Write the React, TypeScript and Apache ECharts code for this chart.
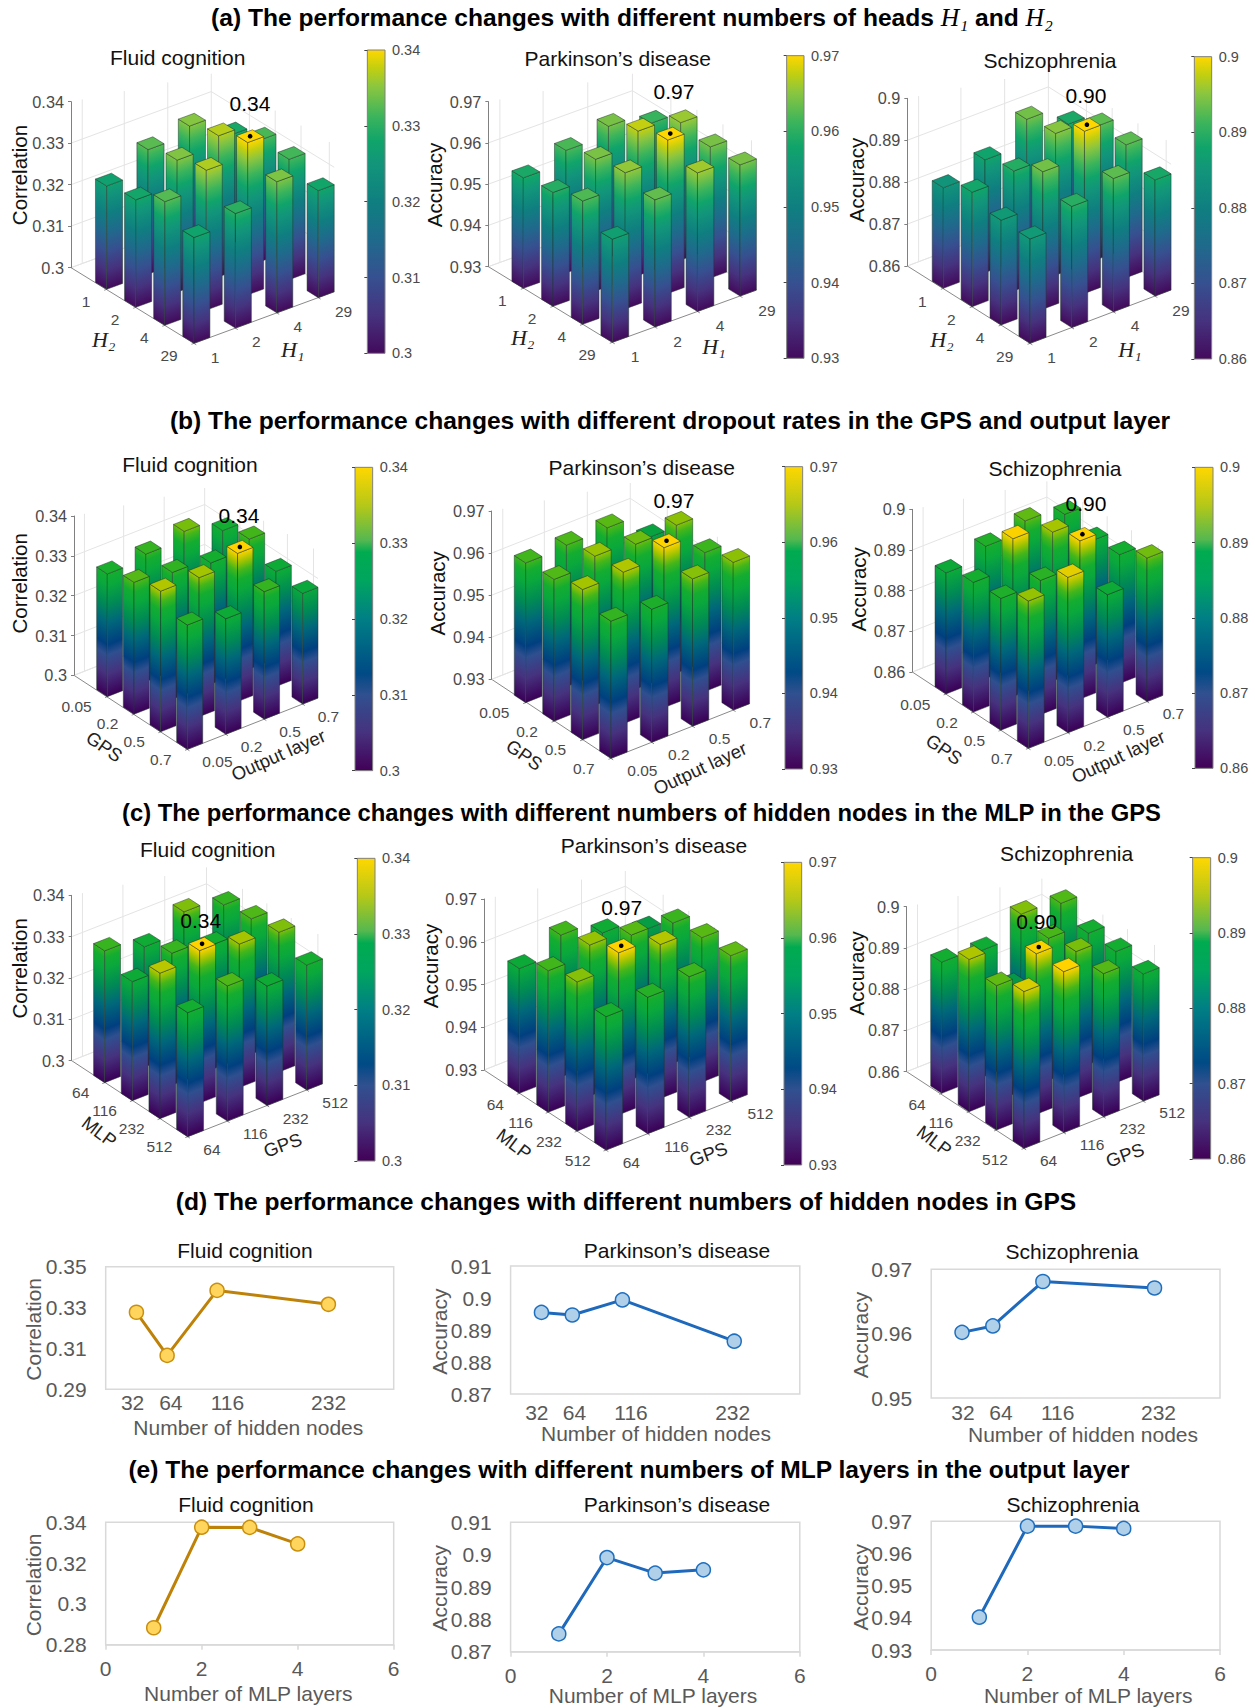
import React, { useEffect, useRef } from "react";
import * as echarts from "echarts";

// ---------- data: 3D bars, values[i][j], i = right floor axis, j = left floor axis ----------
const fluidHeads = [[0.3249,0.3259,0.3298,0.3255],[0.33,0.3318,0.3337,0.3276],[0.332,0.334,0.3367,0.3316],[0.3262,0.3293,0.329,0.3258]];
const parkinsonHeads = [[0.9568,0.9576,0.9599,0.955],[0.9597,0.9619,0.963,0.9608],[0.9618,0.965,0.9672,0.9636],[0.9588,0.9633,0.9618,0.9618]];
const schizoHeads = [[0.884,0.8873,0.885,0.8849],[0.8869,0.8886,0.8928,0.8889],[0.8928,0.8938,0.8987,0.8918],[0.8879,0.8918,0.8917,0.8877]];
const fluidDropout = [[0.3308,0.3331,0.3353,0.3312],[0.332,0.3318,0.3349,0.329],[0.3339,0.3304,0.3372,0.332],[0.3303,0.3326,0.3289,0.3278]];
const parkinsonDropout = [[0.9632,0.9637,0.9657,0.9626],[0.9636,0.9654,0.966,0.9616],[0.9639,0.9644,0.968,0.965],[0.9577,0.9651,0.963,0.9651]];
const schizoDropout = [[0.8898,0.8919,0.8924,0.8962],[0.8925,0.8988,0.893,0.8982],[0.8949,0.8966,0.8989,0.8901],[0.8927,0.8907,0.8917,0.8953]];
const fluidNodes = [[0.3319,0.3288,0.3352,0.33],[0.3291,0.3319,0.3369,0.3327],[0.3338,0.3301,0.3347,0.3289],[0.3317,0.3327,0.3338,0.3302]];
const parkinsonNodes = [[0.9592,0.9631,0.9649,0.9612],[0.9632,0.9653,0.9679,0.9619],[0.9599,0.9638,0.966,0.9629],[0.9567,0.9628,0.9638,0.964]];
const schizoNodes = [[0.8918,0.8969,0.895,0.898],[0.8908,0.8865,0.8989,0.899],[0.8958,0.8944,0.8956,0.8947],[0.8946,0.8918,0.8918,0.8908]];

const fluidRange = [0.3, 0.34];
const parkinsonRange = [0.93, 0.97];
const schizoRange = [0.86, 0.9];
const zInterval = 0.01;

const headTicks = ["1", "2", "4", "29"];
const dropoutTicks = ["0.05", "0.2", "0.5", "0.7"];
const nodeTicks = ["64", "116", "232", "512"];

// ---------- data: line charts ----------
const hiddenNodes = [32, 64, 116, 232];
const hiddenNodeLabels = ["32", "64", "116", "232"];
const mlpLayers = [1, 2, 3, 4];
const fluidHidden = [0.3277, 0.3066, 0.3384, 0.3316];
const parkinsonHidden = [0.8955, 0.8947, 0.8994, 0.8865];
const schizoHidden = [0.9602, 0.9612, 0.9681, 0.9671];
const fluidLayers = [0.2883, 0.3376, 0.3375, 0.3294];
const parkinsonLayers = [0.8755, 0.8991, 0.8943, 0.8953];
const schizoLayers = [0.9402, 0.9685, 0.9685, 0.9678];

const FLUID = "Fluid cognition";
const PARK = "Parkinson’s disease";
const SCHIZO = "Schizophrenia";
const rowTitles = [
  { text: "(a) The performance changes with different numbers of heads {m|H₁} and {m|H₂}", x: 632, y: 19, size: 24.6 },
  { text: "(b) The performance changes with different dropout rates in the GPS and output layer", x: 670, y: 422, size: 24.6 },
  { text: "(c) The performance changes with different numbers of hidden nodes in the MLP in the GPS", x: 641.5, y: 814, size: 23.8 },
  { text: "(d) The performance changes with different numbers of hidden nodes in GPS", x: 626, y: 1203, size: 24.6 },
  { text: "(e) The performance changes with different numbers of MLP layers in the output layer", x: 629, y: 1471, size: 24.6 },
];

// ---------- colour maps ----------
const mapA: [number, string][] = [[0,"#430a5c"],[0.125,"#46327e"],[0.25,"#365090"],[0.375,"#1f6a8c"],[0.5,"#0f7f80"],[0.625,"#12957a"],[0.7,"#10a46a"],[0.78,"#3bb45c"],[0.88,"#8cc63f"],[0.94,"#c2cf10"],[1,"#ffd700"]];
const mapB: [number, string][] = [[0,"#420058"],[0.125,"#46327e"],[0.25,"#30508f"],[0.32,"#004a85"],[0.5,"#007f85"],[0.625,"#00a55f"],[0.72,"#00ab50"],[0.76,"#55b850"],[0.875,"#b5c818"],[1,"#ffd700"]];
const mapBars: [number, string][] = [[0,"#3a0058"],[0.15,"#46327e"],[0.28,"#2f4f8f"],[0.35,"#003f80"],[0.5,"#00687a"],[0.62,"#008a55"],[0.75,"#0aa83c"],[0.82,"#14ad30"],[0.88,"#45b61a"],[0.94,"#a5c400"],[1,"#ffd200"]];

const hex = (c: string) => [1, 3, 5].map((k) => parseInt(c.slice(k, k + 2), 16));
function colorAt(map: [number, string][], t: number) {
  for (let k = 1; k < map.length; k++) {
    if (t <= map[k][0]) {
      const f = (t - map[k - 1][0]) / (map[k][0] - map[k - 1][0]);
      const a = hex(map[k - 1][1]), b = hex(map[k][1]);
      return `rgb(${a.map((v, n) => Math.round(v + (b[n] - v) * f)).join(",")})`;
    }
  }
  return map[map.length - 1][1];
}
function truncated(map: [number, string][], T: number) {
  const out = map.filter((s) => s[0] < T).map((s) => ({ offset: s[0] / T, color: s[1] }));
  out.push({ offset: 1, color: colorAt(map, T) });
  return out;
}

// ---------- panel layout: numbers in 3x crop coordinates of each origin ----------
const SANS = "'Liberation Sans', Arial, sans-serif";
const SERIF = "'Liberation Serif', serif";
type Pt = number[];
const panels: any[] = [
  { name: FLUID, yName: "Correlation", range: fluidRange, values: fluidHeads, best: "0.34", o: [0, 0], L: [213, 803], top: 305, V0: [320, 868], W: [87.3, 54], U: [124.3, -45.7], w: 0.385, cb: [1102, 1155, 150, 1060], title: [533, 177], yT: [57, 525], bestAt: [750, 310], jOff: [-49, 37], iOff: [50, 41], jName: ["H₂", 311, 1019, 0], iName: ["H₁", 878, 1048, 0], ticks: [headTicks, headTicks], cmap: mapA, cbMap: mapA, max: [2, 2] },
  { name: PARK, yName: "Accuracy", range: parkinsonRange, values: parkinsonHeads, best: "0.97", o: [410, 0], L: [235, 800], top: 305, V0: [340, 865], W: [89, 54], U: [127.7, -46.3], w: 0.385, cb: [1130, 1182, 167, 1075], title: [623, 180], yT: [73, 555], bestAt: [792, 275], jOff: [-50, 35], iOff: [55, 43], jName: ["H₂", 338, 1012, 0], iName: ["H₁", 912, 1040, 0], ticks: [headTicks, headTicks], cmap: mapA, cbMap: mapA, max: [2, 2] },
  { name: SCHIZO, yName: "Accuracy", range: schizoRange, values: schizoHeads, best: "0.90", o: [825, 0], L: [247, 798], top: 295, V0: [355, 865], W: [86.7, 55], U: [125, -47.3], w: 0.385, cb: [1108, 1160, 170, 1077], title: [675, 186], yT: [93, 540], bestAt: [783, 287], jOff: [-50, 38], iOff: [52, 42], jName: ["H₂", 351, 1019, 0], iName: ["H₁", 915, 1048, 0], ticks: [headTicks, headTicks], cmap: mapA, cbMap: mapA, max: [2, 2] },
  { name: FLUID, yName: "Correlation", range: fluidRange, values: fluidDropout, best: "0.34", o: [0, 400], L: [222, 826], top: 348, V0: [322, 890], W: [80, 52.7], U: [115.3, -45.3], w: 0.4, cb: [1065, 1118, 202, 1112], title: [570, 200], yT: [57, 550], bestAt: [717, 345], jOff: [-47, 29], iOff: [45, 37], jName: ["GPS", 313, 1040, -35], iName: ["Output layer", 835, 1065, 24], ticks: [dropoutTicks, dropoutTicks], cmap: mapBars, cbMap: mapB, max: [2, 2] },
  { name: PARK, yName: "Accuracy", range: parkinsonRange, values: parkinsonDropout, best: "0.97", o: [410, 400], L: [245, 838], top: 333, V0: [347, 908], W: [85.3, 55.7], U: [122.3, -48.3], w: 0.4, cb: [1125, 1178, 200, 1107], title: [695, 207], yT: [83, 580], bestAt: [792, 300], jOff: [-49, 30], iOff: [49, 37], jName: ["GPS", 343, 1065, -35], iName: ["Output layer", 870, 1105, 25], ticks: [dropoutTicks, dropoutTicks], cmap: mapBars, cbMap: mapB, max: [2, 2] },
  { name: SCHIZO, yName: "Accuracy", range: schizoRange, values: schizoDropout, best: "0.90", o: [825, 400], L: [262, 816], top: 328, V0: [363, 882], W: [82.3, 54.3], U: [118.7, -46.7], w: 0.4, cb: [1110, 1164, 202, 1105], title: [690, 212], yT: [100, 568], bestAt: [783, 310], jOff: [-47, 31], iOff: [47, 37], jName: ["GPS", 357, 1048, -35], iName: ["Output layer", 880, 1070, 25], ticks: [dropoutTicks, dropoutTicks], cmap: mapBars, cbMap: mapB, max: [2, 2] },
  { name: FLUID, yName: "Correlation", range: fluidRange, values: fluidNodes, best: "0.34", o: [0, 790], L: [215, 812], top: 316, V0: [314, 878], W: [83, 54], U: [119, -46.7], w: 0.4, cb: [1072, 1125, 205, 1113], title: [623, 185], yT: [57, 535], bestAt: [602, 392], jOff: [-46, 29], iOff: [47, 38], jName: ["MLP", 298, 1025, -37], iName: ["GPS", 848, 1065, 20], ticks: [nodeTicks, nodeTicks], cmap: mapBars, cbMap: mapB, max: [1, 2] },
  { name: PARK, yName: "Accuracy", range: parkinsonRange, values: parkinsonNodes, best: "0.97", o: [410, 790], L: [222, 840], top: 327, V0: [328, 910], W: [86.7, 56.7], U: [124.7, -49], w: 0.4, cb: [1122, 1175, 217, 1125], title: [732, 172], yT: [60, 528], bestAt: [635, 352], jOff: [-46, 32], iOff: [50, 37], jName: ["MLP", 312, 1062, -37], iName: ["GPS", 895, 1092, 20], ticks: [nodeTicks, nodeTicks], cmap: mapBars, cbMap: mapB, max: [1, 2] },
  { name: SCHIZO, yName: "Accuracy", range: schizoRange, values: schizoNodes, best: "0.90", o: [825, 790], L: [245, 845], top: 350, V0: [350, 910], W: [82.3, 55], U: [119.3, -47.3], w: 0.4, cb: [1103, 1157, 203, 1107], title: [725, 195], yT: [93, 550], bestAt: [635, 393], jOff: [-48, 32], iOff: [48, 35], jName: ["MLP", 328, 1052, -37], iName: ["GPS", 900, 1095, 20], ticks: [nodeTicks, nodeTicks], cmap: mapBars, cbMap: mapB, max: [1, 2] },
];

const YEL = { line: "#bf8208", fill: "#ffd55e", edge: "#c98f0e" };
const BLU = { line: "#1f69bd", fill: "#b0cfe8", edge: "#1f6fbf" };
const linePanels: any[] = [
  { name: FLUID, yName: "Correlation", xs: hiddenNodes, ys: fluidHidden, c: YEL, box: [105.7, 393.7, 1266.7, 1389.3], y: [0.29, 0.35], yTicks: [0.29, 0.31, 0.33, 0.35], xMax: 300, titleAt: [245, 1252.3], yT: [33, 1329.3], xT: ["Number of hidden nodes", 248.3, 1427.7], labelXs: [132.6, 170.8, 227.4, 328.6], labelY: 1402 },
  { name: PARK, yName: "Accuracy", xs: hiddenNodes, ys: parkinsonHidden, c: BLU, box: [510.6, 799.8, 1266, 1394], y: [0.87, 0.91], yTicks: [0.87, 0.88, 0.89, 0.9, 0.91], xMax: 300, titleAt: [677, 1252], yT: [439, 1331.7], xT: ["Number of hidden nodes", 656, 1433.7], labelXs: [536.8, 574.5, 631, 732.7], labelY: 1412 },
  { name: SCHIZO, yName: "Accuracy", xs: hiddenNodes, ys: schizoHidden, c: BLU, box: [931.2, 1220, 1269.3, 1398], y: [0.95, 0.97], yTicks: [0.95, 0.96, 0.97], xMax: 300, titleAt: [1072, 1252.7], yT: [860, 1335], xT: ["Number of hidden nodes", 1083, 1434.3], labelXs: [962.9, 1001, 1057.7, 1158.5], labelY: 1412 },
  { name: FLUID, yName: "Correlation", xs: mlpLayers, ys: fluidLayers, c: YEL, box: [105.7, 393.7, 1522.3, 1644.7], y: [0.28, 0.34], yTicks: [0.28, 0.3, 0.32, 0.34], xMax: 6, titleAt: [245.9, 1505.7], yT: [33, 1585], xT: ["Number of MLP layers", 248.3, 1693] },
  { name: PARK, yName: "Accuracy", xs: mlpLayers, ys: parkinsonLayers, c: BLU, box: [510.6, 799.8, 1522.3, 1651.7], y: [0.87, 0.91], yTicks: [0.87, 0.88, 0.89, 0.9, 0.91], xMax: 6, titleAt: [677, 1505.7], yT: [439, 1588.3], xT: ["Number of MLP layers", 653, 1695] },
  { name: SCHIZO, yName: "Accuracy", xs: mlpLayers, ys: schizoLayers, c: BLU, box: [931.2, 1220, 1521.3, 1650], y: [0.93, 0.97], yTicks: [0.93, 0.94, 0.95, 0.96, 0.97], xMax: 6, titleAt: [1073, 1506], yT: [860, 1587.3], xT: ["Number of MLP layers", 1088.2, 1695] },
];

const fmt = (v: number) => String(+v.toFixed(2));

function buildOption() {
  const grid: any[] = [], xAxis: any[] = [], yAxis: any[] = [], series: any[] = [], graphic: any[] = [];
  const title: any[] = [];
  const addText = (text: string, x: number, y: number, font: any, rotDeg = 0) => {
    graphic.push({
      type: "text", x, y, rotation: (rotDeg * Math.PI) / 180, silent: true, z: 20,
      style: { text, align: "center", verticalAlign: "middle", fill: font.color, fontSize: font.size, fontFamily: font.family || SANS, fontStyle: font.style || "normal" },
    });
  };
  const addTitle = (text: string, x: number, y: number, size: number, bold: boolean, color: string) => {
    title.push({
      text, left: x, top: y - size * 0.58, textAlign: "center", padding: 0,
      textStyle: { fontFamily: SANS, fontSize: size, fontWeight: bold ? "bold" : "normal", color, rich: { m: { fontFamily: SERIF, fontStyle: "italic", fontWeight: "normal", fontSize: size + 1, color } } },
    });
  };

  rowTitles.forEach((r) => addTitle(r.text, r.x, r.y, r.size, true, "#000"));

  panels.forEach((p) => {
    const X = (zx: number) => p.o[0] + zx / 3;
    const Y = (zy: number) => p.o[1] + zy / 3;
    const L = [X(p.L[0]), Y(p.L[1])];
    const topY = Y(p.top);
    const zPx = L[1] - topY;
    const V0 = [X(p.V0[0]), Y(p.V0[1])];
    const W = [p.W[0] / 3, p.W[1] / 3];
    const U = [p.U[0] / 3, p.U[1] / 3];
    const w = p.w;
    const [zmin, zmax] = p.range;
    const zr = zmax - zmin;
    const B = [V0[0] + 3 * W[0], V0[1] + 3 * W[1]];
    const R = [B[0] + (3 + w) * U[0], B[1] + (3 + w) * U[1]];
    const Back = [L[0] + R[0] - B[0], L[1] + R[1] - B[1]];
    const gw = R[0] - L[0];

    // main grid: the visible y axis is the z axis at the left corner of the floor
    const gi = grid.length;
    grid.push({ left: L[0], top: topY, width: gw, height: zPx });
    xAxis.push({ type: "value", gridIndex: gi, min: 0, max: 1, show: false });
    yAxis.push({
      type: "value", gridIndex: gi, min: zmin, max: zmax, interval: zInterval, z: 1,
      axisLine: { show: true, lineStyle: { color: "#808080", width: 1 } },
      axisTick: { show: true, length: 3, lineStyle: { color: "#808080" } },
      splitLine: { show: false },
      axisLabel: { fontFamily: SANS, fontSize: 16.3, color: "#4a4a4a", margin: 7, padding: [0, 0, 6, 0], formatter: fmt },
    });

    const atPx = (api: any, x: number, y: number, val: number) =>
      api.coord([(x - L[0]) / gw, val + ((L[1] - y) / zPx) * zr]);
    const at = (api: any, i: number, j: number, val: number) =>
      atPx(api, V0[0] + i * U[0] + j * W[0], V0[1] + i * U[1] + j * W[1], val);
    const zLevels: number[] = [];
    for (let k = 0; k < 4; k++) zLevels.push(+(zmin + k * zInterval).toFixed(2));

    // walls and floor
    series.push({
      type: "custom", xAxisIndex: gi, yAxisIndex: gi, silent: true, z: 1,
      data: zLevels.map((z) => [z]),
      renderItem: (params: any, api: any) => {
        const z = api.value(0);
        const kids: any[] = [{
          type: "polyline",
          shape: { points: [atPx(api, L[0], L[1], z), atPx(api, Back[0], Back[1], z), atPx(api, R[0], R[1], z)] },
          style: { stroke: "#e4e4e4", lineWidth: 1, fill: "none" },
        }];
        if (params.dataIndex === 0) {
          const seg = (a: Pt, b: Pt, c: string) => ({ type: "line", shape: { x1: a[0], y1: a[1], x2: b[0], y2: b[1] }, style: { stroke: c, lineWidth: 1 } });
          [0.08, 0.38, 0.69, 1].forEach((f) => {
            const x = L[0] + f * (Back[0] - L[0]), y = L[1] + f * (Back[1] - L[1]);
            kids.push(seg(atPx(api, x, y, zmin), [x, topY - f * 28], "#e4e4e4"));
          });
          [0.31, 0.52, 0.73, 0.96].forEach((f) => {
            const x = Back[0] + f * (R[0] - Back[0]), y = Back[1] + f * (R[1] - Back[1]);
            kids.push(seg(atPx(api, x, y, zmin), [x, topY - 28 + f * (R[1] - 147 - topY + 28)], "#e4e4e4"));
          });
          const pB = atPx(api, B[0], B[1], zmin), pL = atPx(api, L[0], L[1], zmin), pR = atPx(api, R[0], R[1], zmin);
          kids.push(seg(pL, pB, "#8a8a8a"), seg(pB, pR, "#8a8a8a"));
          kids.push(seg(pL, atPx(api, Back[0], Back[1], zmin), "#e4e4e4"), seg(atPx(api, Back[0], Back[1], zmin), pR, "#e4e4e4"));
          for (let k = 0; k < 4; k++) {
            kids.push(seg(at(api, 0, k, zmin), at(api, -0.06, k, zmin), "#8a8a8a"));
            kids.push(seg(at(api, k, 3, zmin), at(api, k, 3.08, zmin), "#8a8a8a"));
          }
        }
        return { type: "group", children: kids };
      },
    });

    // bars, far ones first
    const barData: number[][] = [];
    p.values.forEach((col: number[], i: number) => col.forEach((v, j) => barData.push([i, j, v])));
    barData.sort((a, b) => (V0[1] + a[0] * U[1] + a[1] * W[1]) - (V0[1] + b[0] * U[1] + b[1] * W[1]));
    const panelMax = Math.max(...barData.map((d) => d[2]));
    const stroke = "rgba(30,55,40,0.62)";
    series.push({
      type: "custom", xAxisIndex: gi, yAxisIndex: gi, silent: true, z: 2,
      data: barData,
      renderItem: (_: any, api: any) => {
        const i = api.value(0), j = api.value(1), v = api.value(2);
        const T = (v - zmin) / (panelMax - zmin);
        const stops = truncated(p.cmap, T);
        const F0 = at(api, i, j, zmin), L0 = at(api, i, j - w, zmin), R0 = at(api, i + w, j, zmin);
        const F1 = at(api, i, j, v), L1 = at(api, i, j - w, v), R1 = at(api, i + w, j, v), B1 = at(api, i + w, j - w, v);
        const h = F0[1] - F1[1];
        const faceFill = (a: Pt, b: Pt) => {
          const dx = b[0] - a[0], dy = b[1] - a[1], len = Math.hypot(dx, dy);
          const nx = -dy / len, ny = dx / len, s = -h * ny;
          return { type: "linear", global: true, x: a[0], y: a[1], x2: a[0] + nx * s, y2: a[1] + ny * s, colorStops: stops };
        };
        return {
          type: "group",
          children: [
            { type: "polygon", shape: { points: [L0, F0, F1, L1] }, style: { fill: faceFill(L0, F0), stroke, lineWidth: 0.8 } },
            { type: "polygon", shape: { points: [F0, R0, R1, F1] }, style: { fill: faceFill(F0, R0), stroke, lineWidth: 0.8 } },
            { type: "polygon", shape: { points: [F1, R1, B1, L1] }, style: { fill: colorAt(p.cmap, T), stroke, lineWidth: 0.8 } },
          ],
        };
      },
    });

    // floor tick labels
    const floor = [
      ...p.ticks[1].map((t: string, k: number) => ({ t, a: 0, b: k, off: p.jOff, align: "right" })),
      ...p.ticks[0].map((t: string, k: number) => ({ t, a: k, b: 3, off: p.iOff, align: "left" })),
    ];
    series.push({
      type: "custom", xAxisIndex: gi, yAxisIndex: gi, silent: true, z: 3,
      data: floor.map((f) => [f.a, f.b]),
      renderItem: (params: any, api: any) => {
        const f = floor[params.dataIndex];
        const q = at(api, api.value(0), api.value(1), zmin);
        return {
          type: "text", x: q[0] + f.off[0] / 3, y: q[1] + f.off[1] / 3,
          style: { text: f.t, align: f.align, verticalAlign: "middle", fontFamily: SANS, fontSize: 15.5, fill: "#4a4a4a" },
        };
      },
    });

    // best value: dot on the top of the tallest bar and its label
    const [mi, mj] = p.max;
    series.push({
      type: "custom", xAxisIndex: gi, yAxisIndex: gi, silent: true, z: 4,
      data: [[mi, mj, p.values[mi][mj]]],
      renderItem: (_: any, api: any) => {
        const i = api.value(0), j = api.value(1), v = api.value(2);
        const c = at(api, i + w / 2, j - w / 2, v);
        return {
          type: "group",
          children: [
            { type: "circle", shape: { cx: c[0], cy: c[1], r: 2.3 }, style: { fill: "#000" } },
            { type: "text", x: X(p.bestAt[0]), y: Y(p.bestAt[1]), style: { text: p.best, align: "center", verticalAlign: "middle", fontFamily: SANS, fontSize: 21, fill: "#000" } },
          ],
        };
      },
    });

    // colour bar with its own scale
    const ci = grid.length;
    const [cx0, cx1, cy0, cy1] = p.cb;
    grid.push({ left: X(cx0), top: Y(cy0), width: (cx1 - cx0) / 3, height: (cy1 - cy0) / 3 });
    xAxis.push({ type: "value", gridIndex: ci, min: 0, max: 1, show: false });
    yAxis.push({
      type: "value", gridIndex: ci, position: "right", min: zmin, max: zmax, interval: zInterval, z: 5,
      axisLine: { show: false },
      axisTick: { show: true, inside: true, length: 3, lineStyle: { color: "#444" } },
      splitLine: { show: false },
      axisLabel: { fontFamily: SANS, fontSize: 14.5, color: "#4a4a4a", margin: 7, formatter: fmt },
    });
    const cbStops = p.cbMap.map((s: [number, string]) => ({ offset: s[0], color: s[1] }));
    series.push({
      type: "custom", xAxisIndex: ci, yAxisIndex: ci, silent: true, z: 2,
      data: [[0, zmax, 1, zmin]],
      renderItem: (_: any, api: any) => {
        const a = api.coord([api.value(0), api.value(1)]);
        const b = api.coord([api.value(2), api.value(3)]);
        return {
          type: "rect",
          shape: { x: a[0], y: a[1], width: b[0] - a[0], height: b[1] - a[1] },
          style: { fill: { type: "linear", x: 0, y: 1, x2: 0, y2: 0, colorStops: cbStops }, stroke: "#808080", lineWidth: 1 },
        };
      },
    });

    addTitle(p.name, X(p.title[0]), Y(p.title[1]), 21, false, "#111");
    addText(p.yName, X(p.yT[0]), Y(p.yT[1]), { size: 20.5, color: "#111" }, 90);
    const nameFont = (n: string) => (n[0] === "H" ? { size: 22, color: "#222", family: SERIF, style: "italic" } : { size: 18.5, color: "#222" });
    addText(p.jName[0], X(p.jName[1]), Y(p.jName[2]), nameFont(p.jName[0]), p.jName[3]);
    addText(p.iName[0], X(p.iName[1]), Y(p.iName[2]), nameFont(p.iName[0]), p.iName[3]);
  });

  const GREY = "#595959";
  linePanels.forEach((p) => {
    const gi = grid.length;
    const [l, r, t, b] = p.box;
    grid.push({ left: l, top: t, width: r - l, height: b - t, show: true, borderColor: "#d9d9d9", borderWidth: 1.5, backgroundColor: "transparent" });
    const isNodes = p.xMax === 300;
    xAxis.push(isNodes
      ? { type: "value", gridIndex: gi, min: 0, max: 300, show: false }
      : {
          type: "value", gridIndex: gi, min: 0, max: 6, interval: 2,
          axisLine: { show: true, lineStyle: { color: "#d9d9d9", width: 1.5 } },
          axisTick: { show: true, length: 5, lineStyle: { color: "#d9d9d9", width: 1.5 } },
          splitLine: { show: false },
          axisLabel: { fontFamily: SANS, fontSize: 21, color: GREY, margin: 13 },
        });
    yAxis.push({
      type: "value", gridIndex: gi, min: p.y[0], max: p.y[1],
      axisLine: { show: false }, axisTick: { show: false }, splitLine: { show: false },
      axisLabel: { fontFamily: SANS, fontSize: 21, color: GREY, margin: 19, customValues: p.yTicks, formatter: fmt },
    });
    series.push({
      type: "line", xAxisIndex: gi, yAxisIndex: gi, silent: true,
      data: p.xs.map((x: number, k: number) => [x, p.ys[k]]),
      symbol: "circle", symbolSize: 14,
      lineStyle: { color: p.c.line, width: 3 },
      itemStyle: { color: p.c.fill, borderColor: p.c.edge, borderWidth: 1.5 },
    });
    addTitle(p.name, p.titleAt[0], p.titleAt[1], 21, false, "#111");
    addText(p.yName, p.yT[0], p.yT[1], { size: 21, color: GREY }, 90);
    addText(p.xT[0], p.xT[1], p.xT[2], { size: 21, color: GREY });
    if (isNodes) hiddenNodeLabels.forEach((s, k) => addText(s, p.labelXs[k], p.labelY, { size: 21, color: GREY }));
  });

  return { animation: false, backgroundColor: "#fff", title, grid, xAxis, yAxis, series, graphic: { elements: graphic } };
}

export default function App() {
  const ref = useRef<HTMLDivElement>(null);
  useEffect(() => {
    const chart = echarts.init(ref.current!, undefined, { renderer: "svg" });
    chart.setOption(buildOption() as any);
    return () => chart.dispose();
  }, []);
  return <div ref={ref} style={{ position: "absolute", left: 0, top: 0, width: 1255, height: 1708 }} />;
}
